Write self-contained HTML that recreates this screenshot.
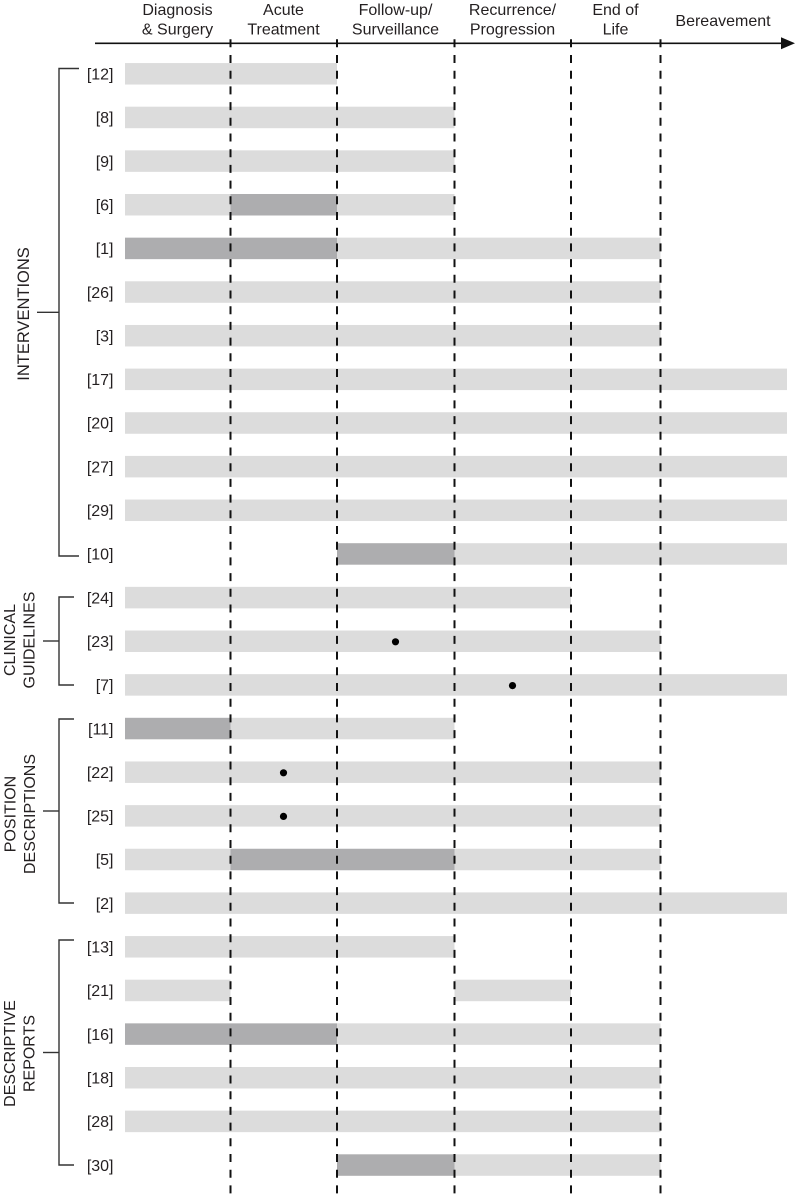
<!DOCTYPE html>
<html>
<head>
<meta charset="utf-8">
<style>
  html, body { margin: 0; padding: 0; background: #ffffff; }
  svg { display: block; }
  text { font-family: "Liberation Sans", Arial, sans-serif; fill: #231f20; }
</style>
</head>
<body>
<svg width="795" height="1199" viewBox="0 0 795 1199" xmlns="http://www.w3.org/2000/svg">
  <!-- Header labels -->
  <g font-size="16" text-anchor="middle">
    <text x="177.5" y="15">Diagnosis</text>
    <text x="177.5" y="34.5">&amp; Surgery</text>
    <text x="283.5" y="15">Acute</text>
    <text x="283.5" y="34.5">Treatment</text>
    <text x="395.5" y="15">Follow-up/</text>
    <text x="395.5" y="34.5">Surveillance</text>
    <text x="512.5" y="15">Recurrence/</text>
    <text x="512.5" y="34.5">Progression</text>
    <text x="615.5" y="15">End of</text>
    <text x="615.5" y="34.5">Life</text>
    <text x="723" y="26">Bereavement</text>
  </g>

  <!-- Axis -->
  <line x1="95" y1="43.3" x2="784" y2="43.3" stroke="#111" stroke-width="1.6"/>
  <polygon points="781,37.3 795,43.3 781,49.3" fill="#111"/>

  <!-- Bars -->
  <g>
    <!-- row 0 [12] cy 73.8 -->
    <rect x="125" y="63.05" width="212" height="21.5" fill="#dcdcdc"/>
    <!-- row 1 [8] cy 117.45 -->
    <rect x="125" y="106.7" width="329.5" height="21.5" fill="#dcdcdc"/>
    <!-- row 2 [9] cy 161.1 -->
    <rect x="125" y="150.35" width="329.5" height="21.5" fill="#dcdcdc"/>
    <!-- row 3 [6] cy 204.75 -->
    <rect x="125" y="194" width="105.5" height="21.5" fill="#dcdcdc"/>
    <rect x="230.5" y="194" width="106.5" height="21.5" fill="#adadaf"/>
    <rect x="337" y="194" width="117.5" height="21.5" fill="#dcdcdc"/>
    <!-- row 4 [1] cy 248.4 -->
    <rect x="125" y="237.65" width="212" height="21.5" fill="#adadaf"/>
    <rect x="337" y="237.65" width="323.5" height="21.5" fill="#dcdcdc"/>
    <!-- row 5 [26] cy 292.05 -->
    <rect x="125" y="281.3" width="535.5" height="21.5" fill="#dcdcdc"/>
    <!-- row 6 [3] cy 335.7 -->
    <rect x="125" y="324.95" width="535.5" height="21.5" fill="#dcdcdc"/>
    <!-- row 7 [17] cy 379.35 -->
    <rect x="125" y="368.6" width="662" height="21.5" fill="#dcdcdc"/>
    <!-- row 8 [20] cy 423 -->
    <rect x="125" y="412.25" width="662" height="21.5" fill="#dcdcdc"/>
    <!-- row 9 [27] cy 466.65 -->
    <rect x="125" y="455.9" width="662" height="21.5" fill="#dcdcdc"/>
    <!-- row 10 [29] cy 510.3 -->
    <rect x="125" y="499.55" width="662" height="21.5" fill="#dcdcdc"/>
    <!-- row 11 [10] cy 553.95 -->
    <rect x="337" y="543.2" width="117.5" height="21.5" fill="#adadaf"/>
    <rect x="454.5" y="543.2" width="332.5" height="21.5" fill="#dcdcdc"/>
    <!-- row 12 [24] cy 597.6 -->
    <rect x="125" y="586.85" width="446" height="21.5" fill="#dcdcdc"/>
    <!-- row 13 [23] cy 641.25 -->
    <rect x="125" y="630.5" width="535.5" height="21.5" fill="#dcdcdc"/>
    <!-- row 14 [7] cy 684.9 -->
    <rect x="125" y="674.15" width="662" height="21.5" fill="#dcdcdc"/>
    <!-- row 15 [11] cy 728.55 -->
    <rect x="125" y="717.8" width="105.5" height="21.5" fill="#adadaf"/>
    <rect x="230.5" y="717.8" width="224" height="21.5" fill="#dcdcdc"/>
    <!-- row 16 [22] cy 772.2 -->
    <rect x="125" y="761.45" width="535.5" height="21.5" fill="#dcdcdc"/>
    <!-- row 17 [25] cy 815.85 -->
    <rect x="125" y="805.1" width="535.5" height="21.5" fill="#dcdcdc"/>
    <!-- row 18 [5] cy 859.5 -->
    <rect x="125" y="848.75" width="105.5" height="21.5" fill="#dcdcdc"/>
    <rect x="230.5" y="848.75" width="224" height="21.5" fill="#adadaf"/>
    <rect x="454.5" y="848.75" width="206" height="21.5" fill="#dcdcdc"/>
    <!-- row 19 [2] cy 903.15 -->
    <rect x="125" y="892.4" width="662" height="21.5" fill="#dcdcdc"/>
    <!-- row 20 [13] cy 946.8 -->
    <rect x="125" y="936.05" width="329.5" height="21.5" fill="#dcdcdc"/>
    <!-- row 21 [21] cy 990.45 -->
    <rect x="125" y="979.7" width="105.5" height="21.5" fill="#dcdcdc"/>
    <rect x="454.5" y="979.7" width="116.5" height="21.5" fill="#dcdcdc"/>
    <!-- row 22 [16] cy 1034.1 -->
    <rect x="125" y="1023.35" width="212" height="21.5" fill="#adadaf"/>
    <rect x="337" y="1023.35" width="323.5" height="21.5" fill="#dcdcdc"/>
    <!-- row 23 [18] cy 1077.75 -->
    <rect x="125" y="1067" width="535.5" height="21.5" fill="#dcdcdc"/>
    <!-- row 24 [28] cy 1121.4 -->
    <rect x="125" y="1110.65" width="535.5" height="21.5" fill="#dcdcdc"/>
    <!-- row 25 [30] cy 1165.05 -->
    <rect x="337" y="1154.3" width="117.5" height="21.5" fill="#adadaf"/>
    <rect x="454.5" y="1154.3" width="206" height="21.5" fill="#dcdcdc"/>
  </g>

  <!-- Dashed dividers -->
  <g stroke="#111" stroke-width="2" stroke-dasharray="8 7.7">
    <line x1="230.5" y1="39.3" x2="230.5" y2="1199"/>
    <line x1="337" y1="39.3" x2="337" y2="1199"/>
    <line x1="454.5" y1="39.3" x2="454.5" y2="1199"/>
    <line x1="571" y1="39.3" x2="571" y2="1199"/>
    <line x1="660.5" y1="39.3" x2="660.5" y2="1199"/>
  </g>

  <!-- Dots -->
  <g fill="#000">
    <circle cx="395.5" cy="641.8" r="3.6"/>
    <circle cx="512.5" cy="685.6" r="3.6"/>
    <circle cx="283.5" cy="772.8" r="3.6"/>
    <circle cx="283.5" cy="816.4" r="3.6"/>
  </g>

  <!-- Row labels -->
  <g font-size="16" text-anchor="end">
    <text x="113.5" y="79.5">[12]</text>
    <text x="113.5" y="123.15">[8]</text>
    <text x="113.5" y="166.8">[9]</text>
    <text x="113.5" y="210.45">[6]</text>
    <text x="113.5" y="254.1">[1]</text>
    <text x="113.5" y="297.75">[26]</text>
    <text x="113.5" y="341.4">[3]</text>
    <text x="113.5" y="385.05">[17]</text>
    <text x="113.5" y="428.7">[20]</text>
    <text x="113.5" y="472.35">[27]</text>
    <text x="113.5" y="516">[29]</text>
    <text x="113.5" y="559.65">[10]</text>
    <text x="113.5" y="603.3">[24]</text>
    <text x="113.5" y="646.95">[23]</text>
    <text x="113.5" y="690.6">[7]</text>
    <text x="113.5" y="734.25">[11]</text>
    <text x="113.5" y="777.9">[22]</text>
    <text x="113.5" y="821.55">[25]</text>
    <text x="113.5" y="865.2">[5]</text>
    <text x="113.5" y="908.85">[2]</text>
    <text x="113.5" y="952.5">[13]</text>
    <text x="113.5" y="996.15">[21]</text>
    <text x="113.5" y="1039.8">[16]</text>
    <text x="113.5" y="1083.45">[18]</text>
    <text x="113.5" y="1127.1">[28]</text>
    <text x="113.5" y="1170.75">[30]</text>
  </g>

  <!-- Brackets -->
  <g stroke="#333" stroke-width="1.4" fill="none">
    <!-- Interventions -->
    <polyline points="79,68.5 59,68.5 59,556 79,556"/>
    <line x1="37" y1="312.3" x2="59" y2="312.3"/>
    <!-- Clinical guidelines -->
    <polyline points="74,597 59,597 59,685 74,685"/>
    <line x1="43" y1="641" x2="59" y2="641"/>
    <!-- Position descriptions -->
    <polyline points="74,719 59,719 59,903 74,903"/>
    <line x1="43" y1="811" x2="59" y2="811"/>
    <!-- Descriptive reports -->
    <polyline points="74,940 59,940 59,1165 74,1165"/>
    <line x1="43" y1="1052.5" x2="59" y2="1052.5"/>
  </g>

  <!-- Group labels (rotated) -->
  <g font-size="16.5" text-anchor="middle">
    <text transform="translate(29,314) rotate(-90)" x="0" y="0">INTERVENTIONS</text>
  </g>
  <g font-size="16" text-anchor="middle">
    <text transform="translate(15,640) rotate(-90)">CLINICAL</text>
    <text transform="translate(34.5,640) rotate(-90)">GUIDELINES</text>
    <text transform="translate(15.5,814) rotate(-90)">POSITION</text>
    <text transform="translate(35,814) rotate(-90)">DESCRIPTIONS</text>
    <text transform="translate(15,1053.5) rotate(-90)">DESCRIPTIVE</text>
    <text transform="translate(34.5,1053.5) rotate(-90)">REPORTS</text>
  </g>
</svg>
</body>
</html>
